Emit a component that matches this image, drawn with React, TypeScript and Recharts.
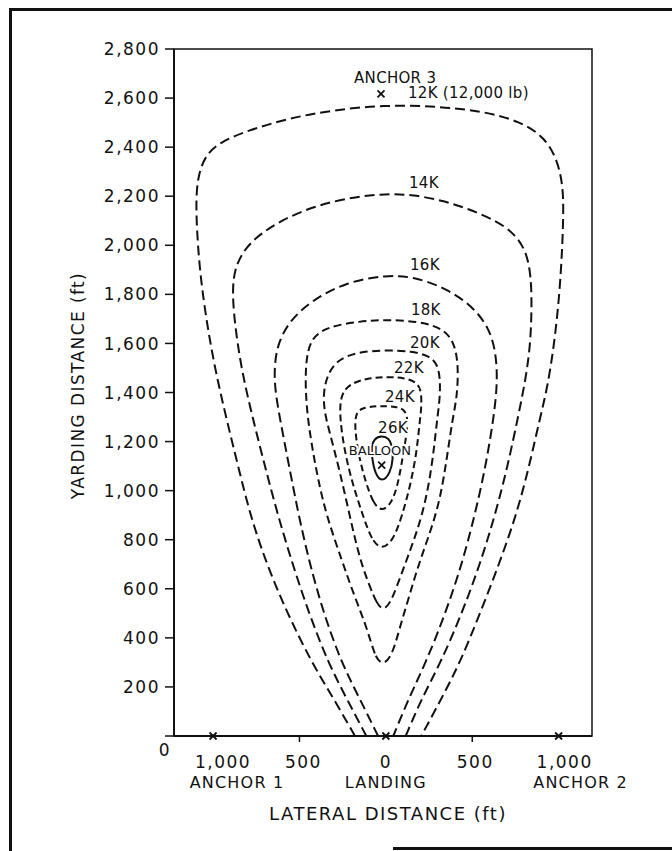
import { ComposedChart, Line, Scatter, XAxis, YAxis, ReferenceArea, Label } from "recharts";

type Pt = [number, number];

// contour lines of log tension (lateral ft, yarding ft)
const c12k: Pt[] = [
  [-179, 0], [-300, 150], [-430, 300], [-570, 500], [-690, 700], [-785, 900], [-855, 1100],
  [-925, 1300], [-990, 1500], [-1040, 1700], [-1078, 1900], [-1097, 2100], [-1097, 2220],
  [-1080, 2300], [-1040, 2370], [-960, 2420], [-800, 2468], [-560, 2518], [-300, 2552],
  [0, 2572], [300, 2566], [560, 2547], [780, 2505], [920, 2440], [995, 2345], [1024, 2240],
  [1028, 2150], [1022, 2000], [1005, 1800], [975, 1600], [935, 1420], [890, 1290],
  [830, 1100], [755, 900], [655, 700], [545, 500], [430, 300], [320, 150], [205, 0],
];
const c14k: Pt[] = [
  [-113, 0], [-225, 150], [-335, 300], [-445, 500], [-540, 700], [-625, 900], [-700, 1100],
  [-772, 1300], [-838, 1500], [-878, 1700], [-888, 1820], [-875, 1900], [-835, 1965],
  [-760, 2030], [-600, 2105], [-400, 2163], [-180, 2198], [0, 2210], [160, 2206],
  [330, 2182], [480, 2148], [640, 2100], [750, 2045], [815, 1970], [838, 1880], [845, 1777],
  [838, 1600], [808, 1450], [765, 1300], [705, 1100], [632, 900], [545, 700], [440, 500],
  [318, 300], [205, 150], [115, 0],
];
const c16k: Pt[] = [
  [-45, 0], [-150, 150], [-258, 300], [-360, 500], [-440, 700], [-505, 900], [-560, 1100],
  [-615, 1300], [-643, 1420], [-645, 1510], [-625, 1600], [-560, 1690], [-430, 1775],
  [-230, 1850], [0, 1879], [160, 1872], [350, 1825], [505, 1750], [600, 1660], [638, 1560],
  [646, 1440], [625, 1300], [578, 1100], [515, 900], [440, 700], [345, 500], [232, 300],
  [130, 150], [43, 0],
];
const c18k: Pt[] = [
  [-20, 288], [-63, 322], [-111, 445], [-188, 581], [-255, 717], [-345, 900], [-391, 1043],
  [-420, 1150], [-452, 1290], [-466, 1420], [-462, 1540], [-430, 1625], [-330, 1670],
  [-150, 1690], [0, 1697], [190, 1690], [340, 1660], [400, 1595], [420, 1505], [412, 1380],
  [385, 1290], [352, 1125], [304, 921], [197, 717], [140, 581], [82, 445], [34, 322],
];
const c20k: Pt[] = [
  [-15, 512], [-53, 540], [-92, 608], [-150, 717], [-210, 900], [-268, 1084], [-330, 1250],
  [-355, 1320], [-362, 1390], [-345, 1460], [-290, 1530], [-170, 1565], [0, 1573],
  [150, 1568], [250, 1550], [300, 1515], [315, 1450], [312, 1370], [296, 1288],
  [268, 1100], [215, 900], [120, 717], [63, 608], [24, 540],
];
const c22k: Pt[] = [
  [-24, 758], [-82, 798], [-130, 893], [-188, 1016], [-237, 1152], [-268, 1300],
  [-262, 1390], [-210, 1435], [-111, 1458], [0, 1464], [110, 1460], [185, 1440],
  [207, 1400], [205, 1330], [197, 1290], [178, 1152], [140, 1016], [92, 893], [43, 798],
];
const c24k: Pt[] = [
  [-24, 914], [-73, 948], [-121, 1043], [-160, 1153], [-179, 1250], [-176, 1310],
  [-145, 1338], [-34, 1346], [60, 1343], [110, 1330], [128, 1290], [120, 1230],
  [101, 1152], [72, 1030], [34, 948],
];
const c26k: Pt[] = [
  [-24, 1033], [-63, 1070], [-80, 1133], [-84, 1180], [-68, 1212], [-24, 1224],
  [18, 1213], [36, 1185], [43, 1133], [26, 1070],
];

const contours = [
  { name: "12K", pts: c12k, closed: false, dash: "10 5" },
  { name: "14K", pts: c14k, closed: false, dash: "10 5" },
  { name: "16K", pts: c16k, closed: false, dash: "10 5" },
  { name: "18K", pts: c18k, closed: true, dash: "8 4.5" },
  { name: "20K", pts: c20k, closed: true, dash: "8 4.5" },
  { name: "22K", pts: c22k, closed: true, dash: "7 4" },
  { name: "24K", pts: c24k, closed: true, dash: "6.5 4" },
  { name: "26K", pts: c26k, closed: true, dash: undefined },
];

// text placed on the plot (left edge, baseline)
const labelText = ["ANCHOR 3", "12K (12,000 lb)", "14K", "16K", "18K", "20K", "22K", "24K", "26K", "BALLOON"];
const labelX = [-184, 128, 134, 140, 145, 140, 47, -5, -45, -214];
const labelY = [2661, 2600, 2233, 1899, 1716, 1581, 1479, 1361, 1235, 1145];

// "x" marks: anchor 1, landing, anchor 2, anchor 3, balloon
const markX = [-1000, 0, 1000, -28, -24];
const markY = [0, 0, 0, 2617, 1104];

const xTicks = [-1000, -500, 0, 500, 1000];
const xNotes = ["ANCHOR 1", "", "LANDING", "", "ANCHOR 2"];
const yTicks = [0, 200, 400, 600, 800, 1000, 1200, 1400, 1600, 1800, 2000, 2200, 2400, 2600, 2800];

const FONT = "'DejaVu Sans', sans-serif";
const INK = "#111";

const rows = (pts: Pt[]) => pts.map(([x, y]) => ({ x, y }));
const labelRows = labelText.map((text, i) => ({ x: labelX[i], y: labelY[i], text }));
const markRows = markX.map((x, i) => ({ x, y: markY[i] }));

// small nudges so the tick text sits where the lettering was put
const valueShift: Record<number, number> = { [-1000]: 10, [-500]: 4, 0: 0, 500: 3, 1000: 6 };
const noteShift: Record<number, number> = { [-1000]: 24, 0: 0, 1000: 22 };

const XTick = (props: any) => {
  const { x, y, payload } = props;
  const v = payload.value as number;
  const note = xNotes[xTicks.indexOf(v)];
  return (
    <g fontFamily={FONT} fill={INK}>
      {Math.abs(v) === 500 && <line x1={x} x2={x} y1={y} y2={y + 6} stroke={INK} strokeWidth={1.5} />}
      <text x={x + (valueShift[v] ?? 0)} y={y + 32} textAnchor="middle" fontSize={17} letterSpacing={1.5}>
        {Math.abs(v).toLocaleString("en-US")}
      </text>
      {note && (
        <text x={x + (noteShift[v] ?? 0)} y={y + 52} textAnchor="middle" fontSize={16} letterSpacing={1.2}>
          {note}
        </text>
      )}
    </g>
  );
};

const YTick = (props: any) => {
  const { x, y, payload } = props;
  const zero = payload.value === 0;
  return (
    <text
      x={zero ? x + 11 : x}
      y={zero ? y + 14 : y}
      dy="0.36em"
      textAnchor="end"
      fontSize={17}
      letterSpacing={1.5}
      fill={INK}
      fontFamily={FONT}
    >
      {(payload.value as number).toLocaleString("en-US")}
    </text>
  );
};

const TextMark = (props: any) => {
  const { cx, cy, payload } = props;
  const small = payload.text === "BALLOON";
  return (
    <text
      x={cx}
      y={cy}
      fontSize={small ? 13 : 15}
      letterSpacing={small ? 0 : 0.3}
      fill={INK}
      fontFamily={FONT}
      stroke="#fff"
      strokeWidth={4}
      paintOrder="stroke"
    >
      {payload.text}
    </text>
  );
};

const CrossMark = (props: any) => {
  const { cx, cy } = props;
  const r = 3.5;
  return (
    <g stroke={INK} strokeWidth={1.8}>
      <line x1={cx - r} y1={cy - r} x2={cx + r} y2={cy + r} />
      <line x1={cx - r} y1={cy + r} x2={cx + r} y2={cy - r} />
    </g>
  );
};

export default function App() {
  return (
    <div
      style={{
        position: "absolute",
        left: 0,
        top: 0,
        width: 672,
        height: 851,
        overflow: "hidden",
        background: "#fff",
      }}
    >
      <div
        style={{
          position: "absolute",
          left: 9,
          top: 8,
          width: 700,
          height: 900,
          borderLeft: `3px solid ${INK}`,
          borderTop: `3px solid ${INK}`,
        }}
      />
      <div style={{ position: "absolute", left: 393, top: 847, width: 290, height: 3, background: INK }} />
      <div style={{ position: "absolute", left: 0, top: 0 }}>
        <ComposedChart width={672} height={851} margin={{ top: 49, right: 80, bottom: 15, left: 24 }}>
          <XAxis
            type="number"
            dataKey="x"
            domain={[-1226, 1193]}
            ticks={xTicks}
            interval={0}
            height={100}
            tickSize={0}
            tickMargin={0}
            tickLine={false}
            axisLine={{ stroke: INK, strokeWidth: 2 }}
            tick={(p: any) => <XTick {...p} />}
          >
            <Label
              content={({ viewBox }: any) => (
                <text
                  x={viewBox.x + viewBox.width / 2 + 5}
                  y={viewBox.y + 84}
                  textAnchor="middle"
                  fontSize={18}
                  letterSpacing={1.5}
                  fill={INK}
                  fontFamily={FONT}
                >
                  LATERAL DISTANCE (ft)
                </text>
              )}
            />
          </XAxis>
          <YAxis
            type="number"
            dataKey="y"
            domain={[0, 2800]}
            ticks={yTicks}
            interval={0}
            width={150}
            tickSize={9}
            tickMargin={5}
            tickLine={{ stroke: INK, strokeWidth: 1.5 }}
            axisLine={{ stroke: INK, strokeWidth: 2 }}
            tick={(p: any) => <YTick {...p} />}
          >
            <Label
              content={({ viewBox }: any) => {
                const cx = viewBox.x + 54;
                const cy = viewBox.y + viewBox.height / 2 - 7;
                return (
                  <text
                    x={cx}
                    y={cy}
                    transform={`rotate(-90, ${cx}, ${cy})`}
                    textAnchor="middle"
                    dominantBaseline="central"
                    fontSize={17}
                    letterSpacing={1.4}
                    fill={INK}
                    fontFamily={FONT}
                  >
                    YARDING DISTANCE (ft)
                  </text>
                );
              }}
            />
          </YAxis>
          <ReferenceArea x1={-1226} x2={1193} y1={0} y2={2800} fill="none" stroke={INK} strokeWidth={1.5} ifOverflow="visible" />
          {contours.map((c) => (
            <Line
              key={c.name}
              data={rows(c.pts)}
              dataKey="y"
              type={c.closed ? "basisClosed" : "basis"}
              stroke={INK}
              strokeWidth={2}
              strokeDasharray={c.dash}
              dot={false}
              activeDot={false}
              legendType="none"
              isAnimationActive={false}
            />
          ))}
          <Scatter data={markRows} shape={(p: any) => <CrossMark {...p} />} isAnimationActive={false} />
          <Scatter data={labelRows} shape={(p: any) => <TextMark {...p} />} isAnimationActive={false} />
        </ComposedChart>
      </div>
    </div>
  );
}
